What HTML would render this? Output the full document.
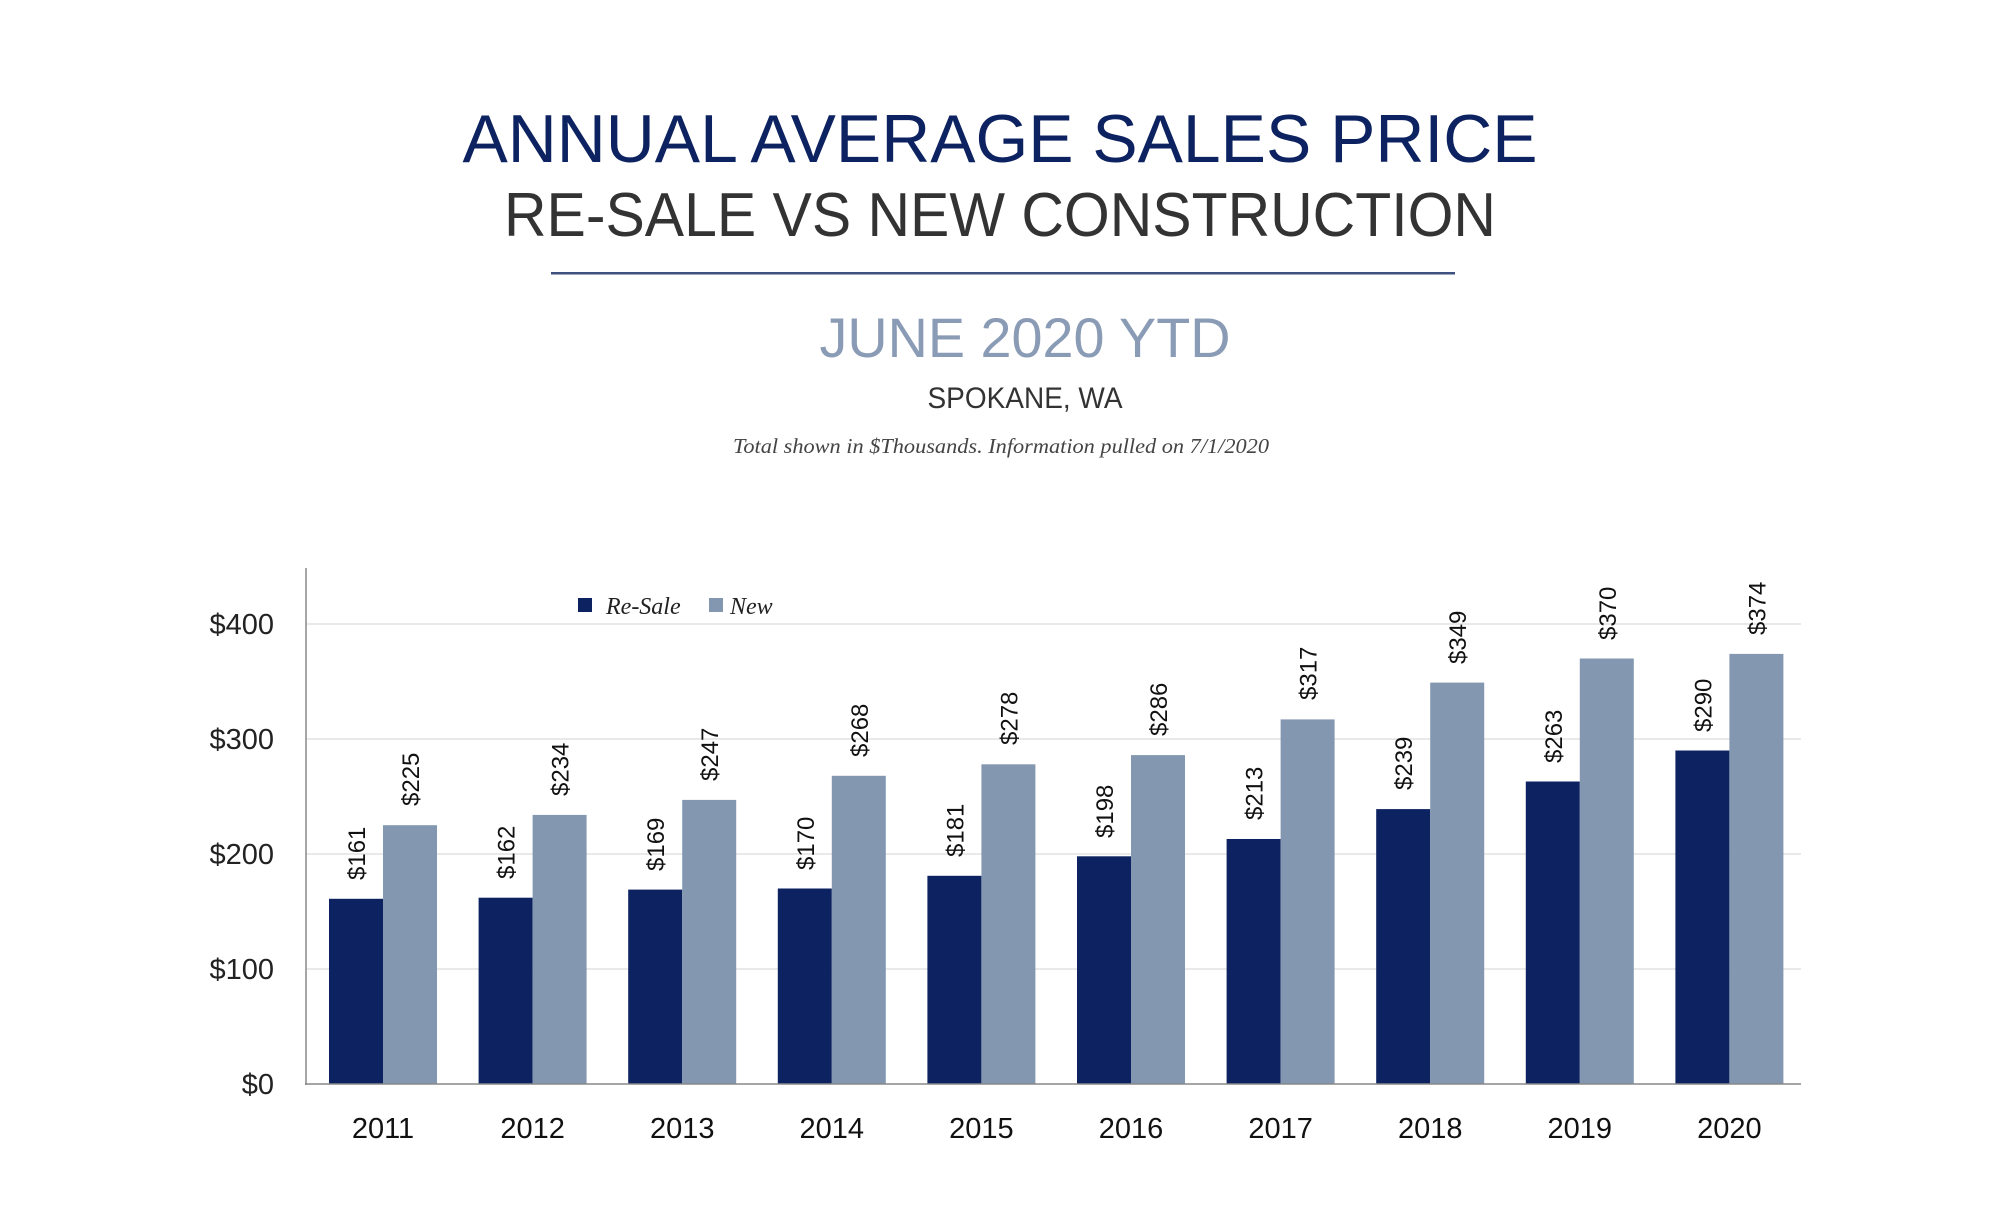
<!DOCTYPE html>
<html><head><meta charset="utf-8"><style>
html,body{margin:0;padding:0;background:#fff;}
svg{display:block;}
</style></head><body>
<svg width="2000" height="1229" viewBox="0 0 2000 1229" xmlns="http://www.w3.org/2000/svg">
<rect width="2000" height="1229" fill="#fff"/>
<text x="1000" y="162" text-anchor="middle" font-family="Liberation Sans, sans-serif" font-size="68" fill="#0d2260" textLength="1075" lengthAdjust="spacingAndGlyphs">ANNUAL AVERAGE SALES PRICE</text>
<text x="1000" y="236" text-anchor="middle" font-family="Liberation Sans, sans-serif" font-size="62" fill="#333" textLength="992" lengthAdjust="spacingAndGlyphs">RE-SALE VS NEW CONSTRUCTION</text>
<rect x="551" y="272" width="904" height="2.5" fill="#3d5080"/>
<text x="1025" y="357" text-anchor="middle" font-family="Liberation Sans, sans-serif" font-size="56" fill="#8a9bb5" textLength="411" lengthAdjust="spacingAndGlyphs">JUNE 2020 YTD</text>
<text x="1025" y="408" text-anchor="middle" font-family="Liberation Sans, sans-serif" font-size="30" fill="#333" textLength="195" lengthAdjust="spacingAndGlyphs">SPOKANE, WA</text>
<text x="1001" y="453" text-anchor="middle" font-family="Liberation Serif, serif" font-style="italic" font-size="21" fill="#444" textLength="536" lengthAdjust="spacingAndGlyphs">Total shown in $Thousands. Information pulled on 7/1/2020</text>
<g stroke="#e2e2e2" stroke-width="1.5">
<line x1="306" y1="624" x2="1801" y2="624"/>
<line x1="306" y1="739" x2="1801" y2="739"/>
<line x1="306" y1="854" x2="1801" y2="854"/>
<line x1="306" y1="969" x2="1801" y2="969"/>
</g>
<g font-family="Liberation Sans, sans-serif" font-size="29" fill="#222" text-anchor="end">
<text x="274" y="634">$400</text><text x="274" y="749">$300</text><text x="274" y="864">$200</text><text x="274" y="979">$100</text><text x="274" y="1094">$0</text>
</g>
<g fill="#0d2260">
<rect x="329" y="898.8" width="54" height="185.2"/>
<rect x="478.6" y="897.7" width="54" height="186.3"/>
<rect x="628.2" y="889.6" width="54" height="194.4"/>
<rect x="777.8" y="888.5" width="54" height="195.5"/>
<rect x="927.4" y="875.8" width="54" height="208.2"/>
<rect x="1077" y="856.3" width="54" height="227.7"/>
<rect x="1226.6" y="839" width="54" height="245"/>
<rect x="1376.2" y="809.1" width="54" height="274.9"/>
<rect x="1525.8" y="781.5" width="54" height="302.5"/>
<rect x="1675.4" y="750.5" width="54" height="333.5"/>
</g>
<g fill="#8497b0">
<rect x="383" y="825.2" width="54" height="258.8"/>
<rect x="532.6" y="814.9" width="54" height="269.1"/>
<rect x="682.2" y="799.9" width="54" height="284.1"/>
<rect x="831.8" y="775.8" width="54" height="308.2"/>
<rect x="981.4" y="764.3" width="54" height="319.7"/>
<rect x="1131" y="755.1" width="54" height="328.9"/>
<rect x="1280.6" y="719.4" width="54" height="364.6"/>
<rect x="1430.2" y="682.6" width="54" height="401.4"/>
<rect x="1579.8" y="658.5" width="54" height="425.5"/>
<rect x="1729.4" y="653.9" width="54" height="430.1"/>
</g>
<g font-family="Liberation Sans, sans-serif" font-size="24" fill="#111">
<text transform="translate(365,880) rotate(-90)">$161</text>
<text transform="translate(514.6,879) rotate(-90)">$162</text>
<text transform="translate(664.2,871) rotate(-90)">$169</text>
<text transform="translate(813.8,870) rotate(-90)">$170</text>
<text transform="translate(963.4,857) rotate(-90)">$181</text>
<text transform="translate(1113,838) rotate(-90)">$198</text>
<text transform="translate(1262.6,820) rotate(-90)">$213</text>
<text transform="translate(1412.2,790) rotate(-90)">$239</text>
<text transform="translate(1561.8,763) rotate(-90)">$263</text>
<text transform="translate(1711.4,732) rotate(-90)">$290</text>
<text transform="translate(419,806) rotate(-90)">$225</text>
<text transform="translate(568.6,796) rotate(-90)">$234</text>
<text transform="translate(718.2,781) rotate(-90)">$247</text>
<text transform="translate(867.8,757) rotate(-90)">$268</text>
<text transform="translate(1017.4,745) rotate(-90)">$278</text>
<text transform="translate(1167,736) rotate(-90)">$286</text>
<text transform="translate(1316.6,700) rotate(-90)">$317</text>
<text transform="translate(1466.2,664) rotate(-90)">$349</text>
<text transform="translate(1615.8,640) rotate(-90)">$370</text>
<text transform="translate(1765.4,635) rotate(-90)">$374</text>
</g>
<g font-family="Liberation Sans, sans-serif" font-size="29" fill="#111" text-anchor="middle">
<text x="383" y="1138">2011</text><text x="532.6" y="1138">2012</text><text x="682.2" y="1138">2013</text><text x="831.8" y="1138">2014</text><text x="981.4" y="1138">2015</text><text x="1131" y="1138">2016</text><text x="1280.6" y="1138">2017</text><text x="1430.2" y="1138">2018</text><text x="1579.8" y="1138">2019</text><text x="1729.4" y="1138">2020</text>
</g>
<line x1="306" y1="568" x2="306" y2="1085" stroke="#888" stroke-width="1.5"/>
<line x1="305" y1="1084" x2="1801" y2="1084" stroke="#888" stroke-width="1.5"/>
<rect x="578" y="598" width="14" height="14" fill="#0d2260"/>
<text x="606" y="614" font-family="Liberation Serif, serif" font-style="italic" font-size="24" fill="#222">Re-Sale</text>
<rect x="709" y="598" width="14" height="14" fill="#8497b0"/>
<text x="730" y="614" font-family="Liberation Serif, serif" font-style="italic" font-size="24" fill="#222">New</text>
</svg>
</body></html>
